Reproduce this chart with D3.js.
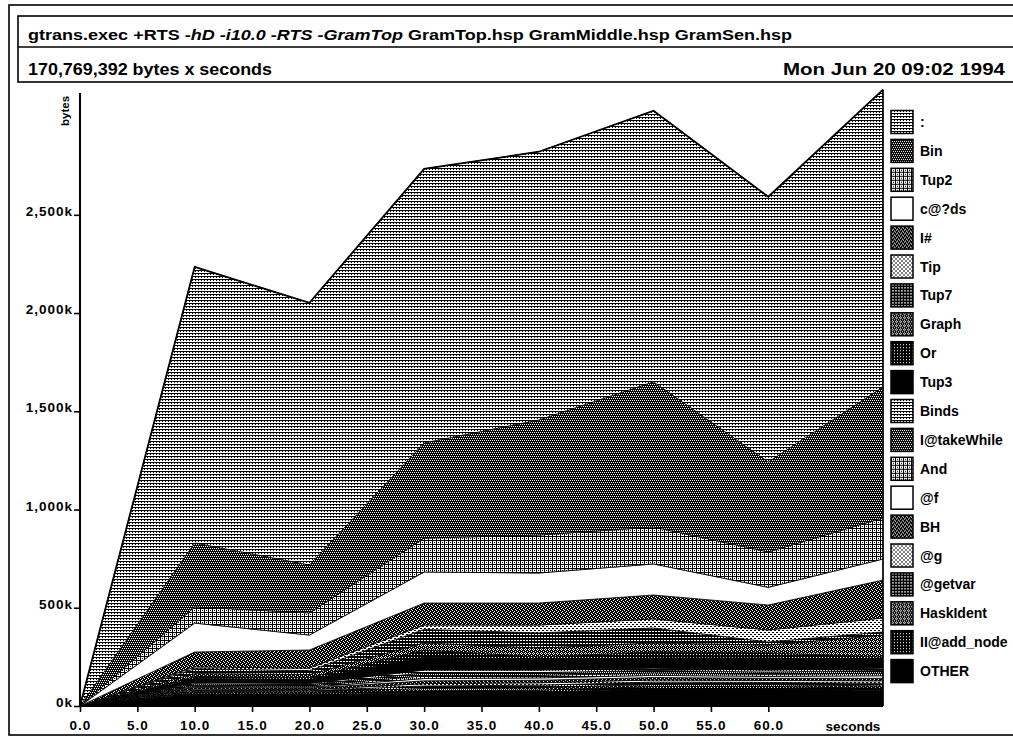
<!DOCTYPE html>
<html><head><meta charset="utf-8">
<script src="https://cdn.jsdelivr.net/npm/d3@7"></script>
<style>
html,body{margin:0;padding:0;background:#fff;}
svg{display:block;}
text{font-family:"Liberation Sans",Arial,Helvetica,sans-serif;font-weight:bold;fill:#000;}
</style></head><body>
<svg id="chart" width="1013" height="738"></svg>
<script>
// ---------- data (kilobytes) ----------
const times = [0, 10, 20, 30, 40, 50, 60, 70];
// legend order (top band first)
const legendNames = [":", "Bin", "Tup2", "c@?ds", "I#", "Tip", "Tup7", "Graph", "Or", "Tup3",
  "Binds", "I@takeWhile", "And", "@f", "BH", "@g", "@getvar", "HaskIdent", "II@add_node", "OTHER"];
const sColon      = [0, 1405, 1334, 1395, 1365, 1380, 1350, 1513];
const sBin        = [0, 326, 244, 484, 586, 739, 458, 667];
const sTup2       = [0, 82, 113, 173, 193, 188, 180, 209];
const sCds        = [0, 147, 76, 158, 153, 158, 90, 107];
const sIHash      = [0, 76, 92, 112, 112, 122, 127, 193];
const sTip        = [0, 9, 13, 22, 40, 46, 61, 71];
const sTup7       = [0, 25, 20, 69, 77, 76, 16, 16];
const sGraph      = [0, 15, 15, 36, 45, 46, 40, 111];
const sOr         = [0, 10, 10, 35, 16, 31, 26, 16];
const sTup3       = [0, 20, 20, 67, 51, 51, 61, 41];
const sBinds      = [0, 6, 6, 14, 13, 12, 10, 12];
const sTakeWhile  = [0, 8, 7, 15, 14, 13, 11, 14];
const sAnd        = [0, 6, 6, 14, 13, 12, 11, 13];
const sAtF        = [0, 5, 5, 12, 12, 11, 10, 13];
const sBH         = [0, 8, 8, 14, 13, 12, 11, 13];
const sAtG        = [0, 5, 5, 12, 12, 11, 10, 13];
const sGetvar     = [0, 7, 6, 13, 13, 12, 10, 13];
const sHaskIdent  = [0, 6, 6, 12, 12, 11, 10, 12];
const sAddNode    = [0, 7, 6, 11, 11, 11, 10, 12];
const sOther      = [0, 62, 60, 66, 70, 88, 90, 78];
const yTickValues = [0, 500, 1000, 1500, 2000, 2500];
const yTickLabels = ["0k", "500k", "1,000k", "1,500k", "2,000k", "2,500k"];
const xTickValues = [0, 5, 10, 15, 20, 25, 30, 35, 40, 45, 50, 55, 60];
const xTickLabels = ["0.0", "5.0", "10.0", "15.0", "20.0", "25.0", "30.0", "35.0", "40.0", "45.0", "50.0", "55.0", "60.0"];
const titleParts = ["gtrans.exec +RTS ", "-hD -i10.0 -RTS -GramTop", " GramTop.hsp GramMiddle.hsp GramSen.hsp"];
const subtitle = "170,769,392 bytes x seconds";
const dateText = "Mon Jun 20 09:02 1994";

const seriesList = [sColon, sBin, sTup2, sCds, sIHash, sTip, sTup7, sGraph, sOr, sTup3,
  sBinds, sTakeWhile, sAnd, sAtF, sBH, sAtG, sGetvar, sHaskIdent, sAddNode, sOther];
const valuesByName = {};
legendNames.forEach((n, i) => valuesByName[n] = seriesList[i]);

// ---------- drawing ----------
const svg = d3.select("#chart");
const defs = svg.append("defs");
const patSpecs = [
  {s:3, bg:"#fff", fg:"#000", px:[[0,0,3,1],[0,1,1,1]]},
  {s:4, bg:"#000", fg:"#fff", px:[[0,0,1,1],[2,0,1,1],[1,2,1,1],[3,2,1,1]]},
  {s:4, bg:"#fff", fg:"#000", px:[[0,0,4,1],[0,1,1,3],[2,2,1,1]]},
  {s:2, bg:"#fff", fg:"#fff", px:[]},
  {s:4, bg:"#000", fg:"#fff", px:[[1,0,1,1],[3,1,1,1],[0,2,1,1],[2,3,1,1]]},
  {s:4, bg:"#fff", fg:"#000", px:[[0,0,2,1],[2,2,2,1]]},
  {s:3, bg:"#000", fg:"#fff", px:[[1,1,2,1]]},
  {s:4, bg:"#000", fg:"#fff", px:[[1,0,1,1],[0,1,1,1],[2,1,1,1],[1,2,1,1],[3,3,1,1]]},
  {s:3, bg:"#000", fg:"#fff", px:[[0,0,1,1]]},
  {s:2, bg:"#000", fg:"#000", px:[]}
];
patSpecs.forEach((p, i) => {
  const pat = defs.append("pattern").attr("id", "pat" + i)
    .attr("patternUnits", "userSpaceOnUse").attr("width", p.s).attr("height", p.s);
  pat.append("rect").attr("width", p.s).attr("height", p.s).attr("fill", p.bg);
  p.px.forEach(r => pat.append("rect").attr("x", r[0]).attr("y", r[1])
    .attr("width", r[2]).attr("height", r[3]).attr("fill", p.fg));
});
const patFor = name => "url(#pat" + (legendNames.indexOf(name) % 10) + ")";

// frames
svg.append("rect").attr("x", 9).attr("y", 5).attr("width", 1030).attr("height", 730)
  .attr("fill", "none").attr("stroke", "#000").attr("stroke-width", 1.6);
svg.append("rect").attr("x", 18).attr("y", 16).attr("width", 1030).attr("height", 66)
  .attr("fill", "none").attr("stroke", "#000").attr("stroke-width", 1.6);
svg.append("line").attr("x1", 18).attr("x2", 1013).attr("y1", 47).attr("y2", 47)
  .attr("stroke", "#000").attr("stroke-width", 1.6);

// title texts
const t1 = svg.append("text").attr("x", 28).attr("y", 40).attr("font-size", 15.5)
  .attr("textLength", 764).attr("lengthAdjust", "spacingAndGlyphs");
titleParts.forEach((s, i) => t1.append("tspan").attr("font-style", i === 1 ? "italic" : "normal").text(s));
svg.append("text").attr("x", 28).attr("y", 75).attr("font-size", 16)
  .attr("textLength", 244).attr("lengthAdjust", "spacingAndGlyphs").text(subtitle);
svg.append("text").attr("x", 783).attr("y", 75).attr("font-size", 16)
  .attr("textLength", 222).attr("lengthAdjust", "spacingAndGlyphs").text(dateText);

// scales
const x = d3.scaleLinear().domain([0, 70]).range([80, 883]);
const y = d3.scaleLinear().domain([0, 3120]).range([706, 93]);

// stack
const keys = legendNames.slice().reverse();
const rows = times.map((t, j) => {
  const r = {t: t};
  keys.forEach(k => r[k] = valuesByName[k][j]);
  return r;
});
const stacked = d3.stack().keys(keys)(rows);
const area = d3.area().x(d => x(d.data.t)).y0(d => y(d[0])).y1(d => y(d[1]));
svg.append("g").selectAll("path").data(stacked).join("path")
  .attr("d", area).attr("fill", d => patFor(d.key))
  .attr("stroke", "#000").attr("stroke-width", 0.8).attr("stroke-linejoin", "round");
const topLine = d3.line().x(d => x(d.data.t)).y(d => y(d[1]));
svg.append("path").attr("d", topLine(stacked[stacked.length - 1]))
  .attr("fill", "none").attr("stroke", "#000").attr("stroke-width", 1.8);
svg.append("line").attr("x1", x(70)).attr("x2", x(70))
  .attr("y1", y(0)).attr("y2", y(stacked[stacked.length - 1][times.length - 1][1]))
  .attr("stroke", "#000").attr("stroke-width", 1.5);

// axes
const yAxis = d3.axisLeft(y).tickValues(yTickValues)
  .tickFormat((d, i) => yTickLabels[i]).tickSize(6).tickSizeOuter(0).tickPadding(1);
const gy = svg.append("g").attr("transform", "translate(80,0)").call(yAxis);
const xAxis = d3.axisBottom(x).tickValues(xTickValues)
  .tickFormat((d, i) => xTickLabels[i]).tickSize(6).tickSizeOuter(0).tickPadding(8);
const gx = svg.append("g").attr("transform", "translate(0,706)").call(xAxis);
[gx, gy].forEach(g => {
  g.select(".domain").attr("stroke", "#000").attr("stroke-width", 2);
  g.selectAll(".tick line").attr("stroke", "#000").attr("stroke-width", 1.6);
  g.selectAll(".tick text").attr("font-family", null).attr("font-size", 13.5)
    .style("letter-spacing", "1px").attr("fill", "#000");
});
gy.selectAll(".tick text").attr("dy", "0.05em");
gy.select(".domain").attr("d", "M0," + y(0) + "V93");
gx.select(".domain").attr("d", "M80,0H883");

svg.append("text").attr("x", 853).attr("y", 731).attr("font-size", 13.5)
  .attr("text-anchor", "middle").text("seconds");
svg.append("text").attr("transform", "translate(69,111) rotate(-90)")
  .attr("font-size", 11.5).attr("text-anchor", "middle").text("bytes");

// legend
const lg = svg.append("g").selectAll("g").data(legendNames).join("g")
  .attr("transform", (d, i) => "translate(891," + (122 + i * 28.9) + ")");
lg.append("rect").attr("x", 0).attr("y", -11.5).attr("width", 22).attr("height", 23)
  .attr("fill", d => patFor(d)).attr("stroke", "#000").attr("stroke-width", 1.5);
lg.append("text").attr("x", 29).attr("y", 5).attr("font-size", 14).text(d => d);
</script>
</body></html>
